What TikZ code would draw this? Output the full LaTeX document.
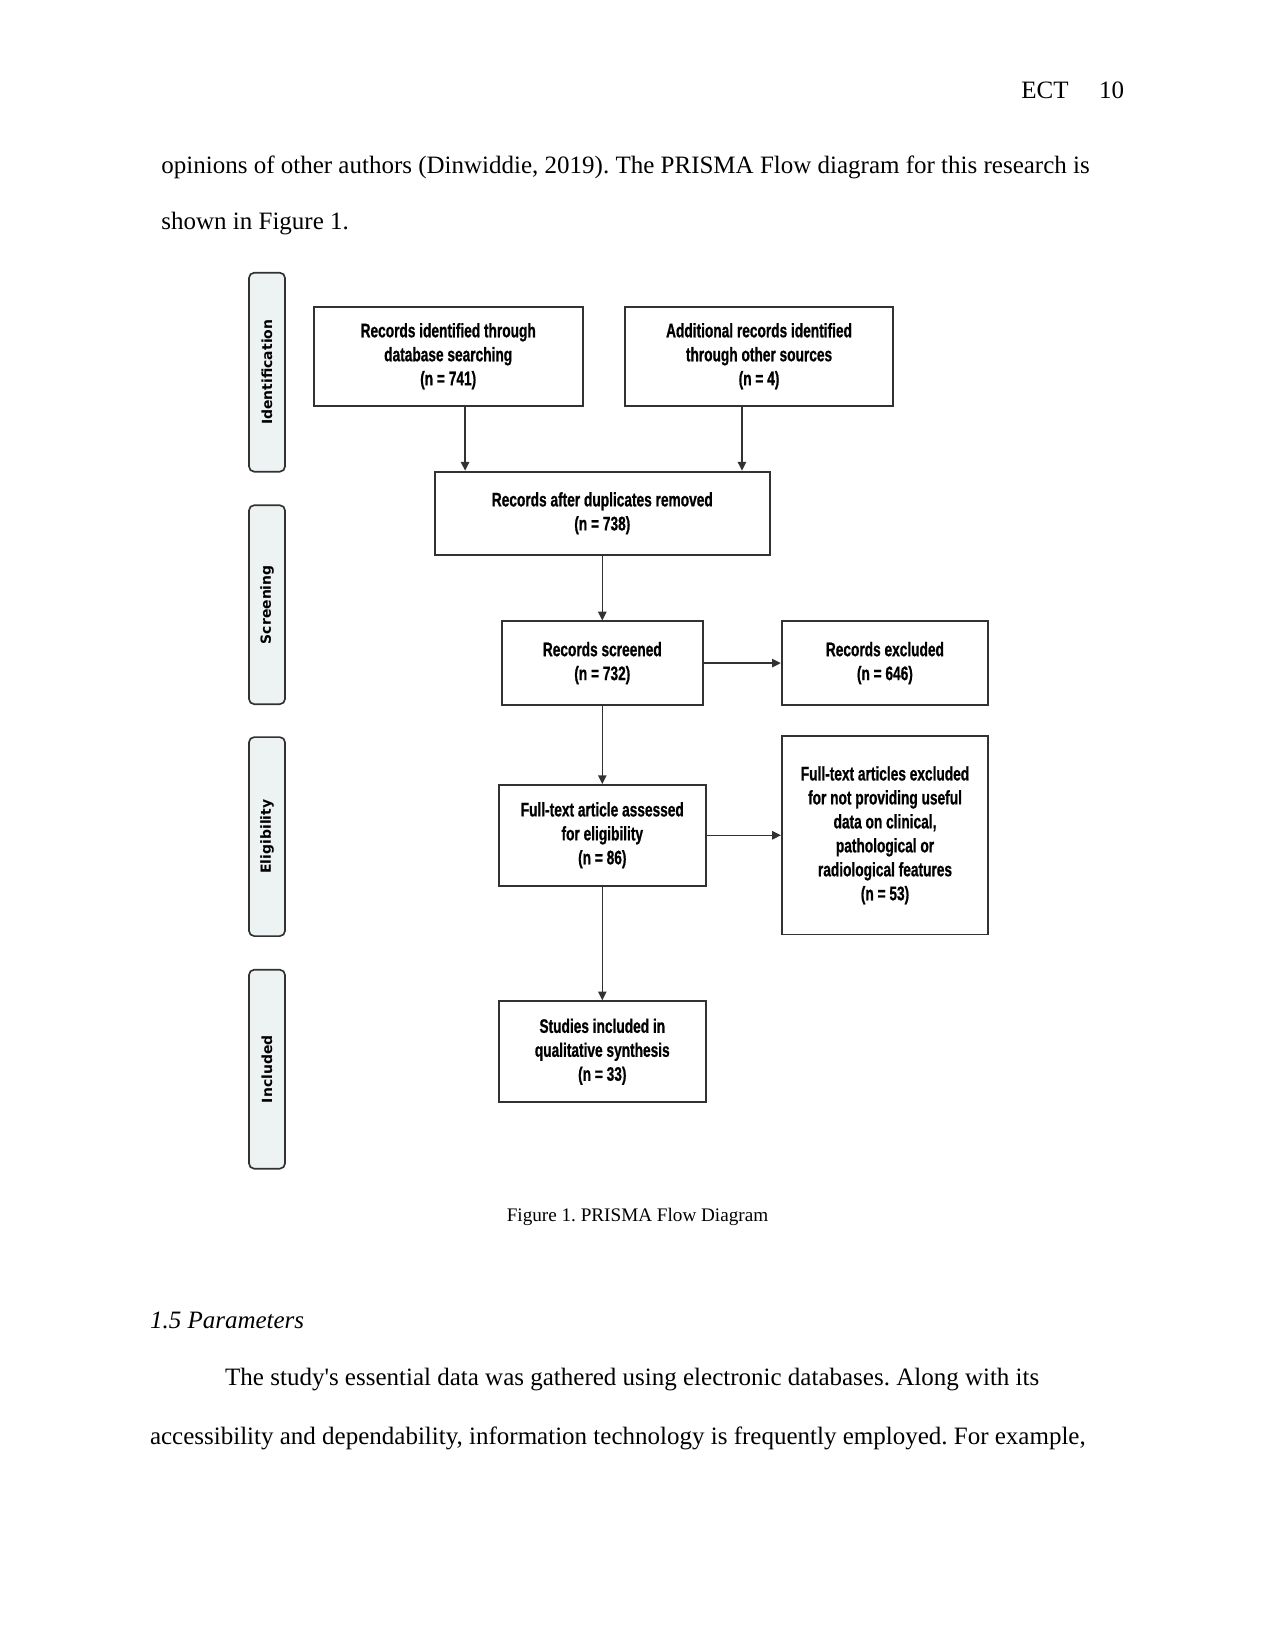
\documentclass[tikz,border=0pt]{standalone}
\usepackage{fontspec}
\setmainfont{Liberation Serif}
\newfontfamily\flowfont[FakeStretch=0.7, BoldFeatures={FakeBold=0.8}]{Liberation Sans}
\newfontfamily\stagefont{DejaVu Sans}
\usetikzlibrary{arrows.meta, positioning}
\definecolor{stagefill}{RGB}{237,242,242}
\definecolor{lineclr}{RGB}{50,50,50}
\frenchspacing

\begin{document}
\begin{tikzpicture}[
x=0.48pt, y=-0.48pt,
box/.style={draw=lineclr, line width=0.9pt, rectangle, align=center, inner sep=2pt, font=\flowfont\bfseries\fontsize{9.4}{11.5}\selectfont},
stage/.style={draw=lineclr, line width=0.8pt, rounded corners=2.5pt, fill=stagefill, rotate=90, minimum width=95.5pt, minimum height=17.3pt, inner sep=0pt, font=\stagefont\bfseries\fontsize{6.7}{8}\selectfont},
arrow/.style={-{Triangle[length=4.2pt,width=4pt]}, line width=0.7pt, draw=lineclr},
body/.style={anchor=base west, inner sep=0pt, font=\fontsize{12}{14}\selectfont}
]
\useasboundingbox (0,0) rectangle (1275,1651);

% page text
\node[body] (runhead) at (1021,98.3) {ECT};
\node[body, anchor=base east] (pagenum) at (1124.4,98.3) {10};
\node[body] (para1) at (161,173.3) {opinions of other authors (Dinwiddie, 2019). The PRISMA Flow diagram for this research is};
\node[body] (para2) at (161,230) {shown in Figure 1.};

% stages
\node[stage] (ident) at (267,372.2) {Identification};
\node[stage] (screen) at (267,604.7) {Screening};
\node[stage] (elig) at (267,836.6) {Eligibility};
\node[stage] (incl) at (267,1069.2) {Included};

% flow
\node[box, minimum width=129.1pt, minimum height=47.5pt] (dbsearch) at (448.2,356.2) {Records identified through\\database searching\\(n = 741)};
\node[box, minimum width=128.5pt, minimum height=47.5pt] (othersrc) [right=19.5pt of dbsearch] {Additional records identified\\through other sources\\(n = 4)};
\node[box, minimum width=160.9pt, minimum height=40pt] (dedup) at (602.3,513.3) {Records after duplicates removed\\(n = 738)};
\node[box, minimum width=96.5pt, minimum height=40pt] (screened) [below=31pt of dedup] {Records screened\\(n = 732)};
\node[box, minimum width=99pt, minimum height=40pt] (excluded) [right=37pt of screened] {Records excluded\\(n = 646)};
\node[box, minimum width=99.4pt, minimum height=48.3pt] (fulltext) [below=37.6pt of screened] {Full-text article assessed\\for eligibility\\(n = 86)};
\node[box, minimum width=99pt, minimum height=95.2pt] (ftexcl) [right=35.6pt of fulltext] {Full-text articles excluded\\for not providing useful\\data on clinical,\\pathological or\\radiological features\\(n = 53)};
\node[box, minimum width=99.4pt, minimum height=48.5pt] (included) [below=54.6pt of fulltext] {Studies included in\\qualitative synthesis\\(n = 33)};

\coordinate (dbout) at ([xshift=8.1pt]dbsearch.south);
\coordinate (otherout) at ([xshift=-8.2pt]othersrc.south);
\draw[arrow] (dbout) -- (dbout |- dedup.north);
\draw[arrow] (otherout) -- (otherout |- dedup.north);
\draw[arrow] (dedup) -- (screened);
\draw[arrow] (screened) -- (excluded);
\draw[arrow] (screened) -- (fulltext);
\draw[arrow] (fulltext.east) -- (fulltext.east -| ftexcl.west);
\draw[arrow] (fulltext) -- (included);

% caption and text below
\node[anchor=base, font=\fontsize{9.2}{11}\selectfont] (caption) at (637.5,1221.7) {Figure 1. PRISMA Flow Diagram};
\node[body, font=\fontsize{12}{14}\selectfont\itshape] (sechead) at (149.6,1328.3) {1.5 Parameters};
\node[body] (para3) at (224.8,1385) {The study\textquotesingle s essential data was gathered using electronic databases. Along with its};
\node[body] (para4) at (149.6,1444) {accessibility and dependability, information technology is frequently employed. For example,};

\end{tikzpicture}
\end{document}
